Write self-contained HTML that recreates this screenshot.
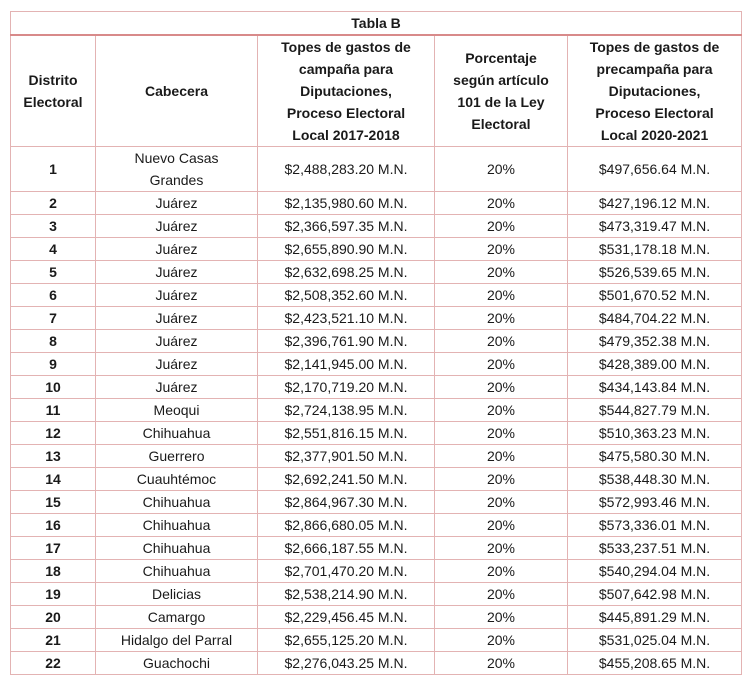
<!DOCTYPE html>
<html><head><meta charset="utf-8"><style>
body{margin:0;background:#fff;font-family:"Liberation Sans",sans-serif;color:#1a1a1a;}
table{position:absolute;left:10px;top:11px;border-collapse:collapse;table-layout:fixed;width:731px;font-size:14px;}
td,th{border:1px solid #e3b3b3;text-align:center;padding:0;line-height:22px;}
th{font-weight:bold;}
tr.t th{height:22px;border-bottom:2px solid #d88a8a;}
tr.h th{height:108px;}
tr.r1 td{height:44px;}
tr.r td{height:22px;}
td.b{font-weight:bold;}
</style></head><body>
<table>
<colgroup><col style="width:85px"><col style="width:162px"><col style="width:177px"><col style="width:133px"><col style="width:174px"></colgroup>
<tr class="t"><th colspan="5">Tabla B</th></tr>
<tr class="h"><th>Distrito<br>Electoral</th><th>Cabecera</th><th>Topes de gastos de<br>campaña para<br>Diputaciones,<br>Proceso Electoral<br>Local 2017-2018</th><th>Porcentaje<br>según artículo<br>101 de la Ley<br>Electoral</th><th>Topes de gastos de<br>precampaña para<br>Diputaciones,<br>Proceso Electoral<br>Local 2020-2021</th></tr>
<tr class="r1"><td class="b">1</td><td>Nuevo Casas<br>Grandes</td><td>$2,488,283.20 M.N.</td><td>20%</td><td>$497,656.64 M.N.</td></tr>
<tr class="r"><td class="b">2</td><td>Juárez</td><td>$2,135,980.60 M.N.</td><td>20%</td><td>$427,196.12 M.N.</td></tr>
<tr class="r"><td class="b">3</td><td>Juárez</td><td>$2,366,597.35 M.N.</td><td>20%</td><td>$473,319.47 M.N.</td></tr>
<tr class="r"><td class="b">4</td><td>Juárez</td><td>$2,655,890.90 M.N.</td><td>20%</td><td>$531,178.18 M.N.</td></tr>
<tr class="r"><td class="b">5</td><td>Juárez</td><td>$2,632,698.25 M.N.</td><td>20%</td><td>$526,539.65 M.N.</td></tr>
<tr class="r"><td class="b">6</td><td>Juárez</td><td>$2,508,352.60 M.N.</td><td>20%</td><td>$501,670.52 M.N.</td></tr>
<tr class="r"><td class="b">7</td><td>Juárez</td><td>$2,423,521.10 M.N.</td><td>20%</td><td>$484,704.22 M.N.</td></tr>
<tr class="r"><td class="b">8</td><td>Juárez</td><td>$2,396,761.90 M.N.</td><td>20%</td><td>$479,352.38 M.N.</td></tr>
<tr class="r"><td class="b">9</td><td>Juárez</td><td>$2,141,945.00 M.N.</td><td>20%</td><td>$428,389.00 M.N.</td></tr>
<tr class="r"><td class="b">10</td><td>Juárez</td><td>$2,170,719.20 M.N.</td><td>20%</td><td>$434,143.84 M.N.</td></tr>
<tr class="r"><td class="b">11</td><td>Meoqui</td><td>$2,724,138.95 M.N.</td><td>20%</td><td>$544,827.79 M.N.</td></tr>
<tr class="r"><td class="b">12</td><td>Chihuahua</td><td>$2,551,816.15 M.N.</td><td>20%</td><td>$510,363.23 M.N.</td></tr>
<tr class="r"><td class="b">13</td><td>Guerrero</td><td>$2,377,901.50 M.N.</td><td>20%</td><td>$475,580.30 M.N.</td></tr>
<tr class="r"><td class="b">14</td><td>Cuauhtémoc</td><td>$2,692,241.50 M.N.</td><td>20%</td><td>$538,448.30 M.N.</td></tr>
<tr class="r"><td class="b">15</td><td>Chihuahua</td><td>$2,864,967.30 M.N.</td><td>20%</td><td>$572,993.46 M.N.</td></tr>
<tr class="r"><td class="b">16</td><td>Chihuahua</td><td>$2,866,680.05 M.N.</td><td>20%</td><td>$573,336.01 M.N.</td></tr>
<tr class="r"><td class="b">17</td><td>Chihuahua</td><td>$2,666,187.55 M.N.</td><td>20%</td><td>$533,237.51 M.N.</td></tr>
<tr class="r"><td class="b">18</td><td>Chihuahua</td><td>$2,701,470.20 M.N.</td><td>20%</td><td>$540,294.04 M.N.</td></tr>
<tr class="r"><td class="b">19</td><td>Delicias</td><td>$2,538,214.90 M.N.</td><td>20%</td><td>$507,642.98 M.N.</td></tr>
<tr class="r"><td class="b">20</td><td>Camargo</td><td>$2,229,456.45 M.N.</td><td>20%</td><td>$445,891.29 M.N.</td></tr>
<tr class="r"><td class="b">21</td><td>Hidalgo del Parral</td><td>$2,655,125.20 M.N.</td><td>20%</td><td>$531,025.04 M.N.</td></tr>
<tr class="r"><td class="b">22</td><td>Guachochi</td><td>$2,276,043.25 M.N.</td><td>20%</td><td>$455,208.65 M.N.</td></tr>
</table>
</body></html>
